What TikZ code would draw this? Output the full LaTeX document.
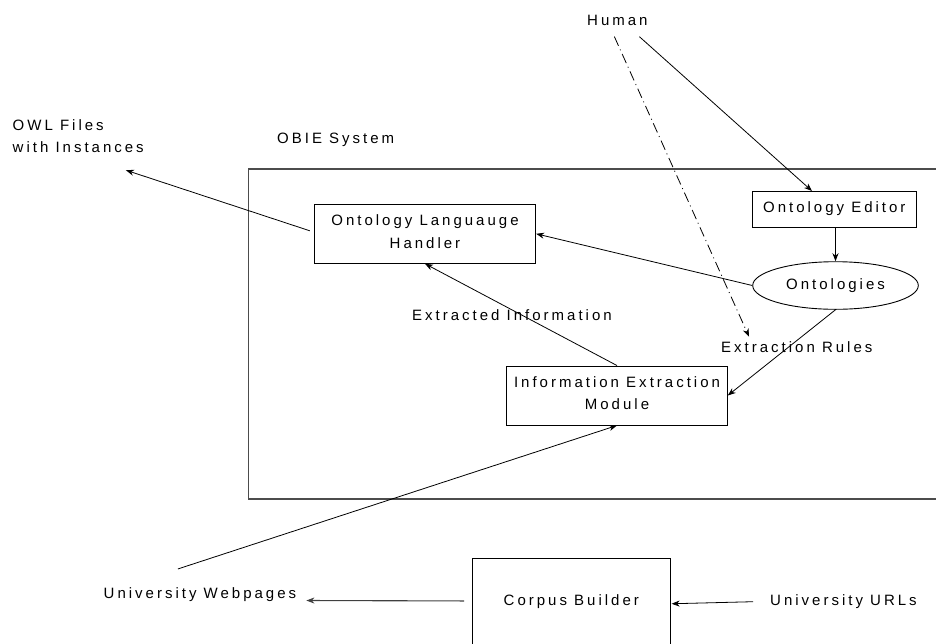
\documentclass[tikz,border=0pt]{standalone}
\usepackage{fontspec}
\setmainfont{Liberation Sans}[LetterSpace=20]
\usetikzlibrary{arrows.meta,calc,shapes.geometric}
% extra depth under the last line of two-line boxes
\newcommand\lowstrut{\rule[-4.3pt]{0pt}{4.3pt}}
\begin{document}
\begin{tikzpicture}[x=1pt,y=-1pt,
  every node/.style={inner sep=0pt,font=\fontsize{15}{22.3}\selectfont},
  box/.style={draw=black,line width=0.9pt,align=center},
  lbl/.style={anchor=base west},
  link/.style={draw=black,line width=0.8pt,-{Stealth[length=8pt,width=6pt,inset=2.5pt]}},
  frame/.style={draw=black!70,line width=1.3pt},
  dashdot/.style={dash pattern=on 10pt off 4pt on 1pt off 4pt}]
\useasboundingbox (0,0) rectangle (936,643);
\clip (0,0) rectangle (936,643);

% system boundary
\draw[frame] (248.7,169) rectangle (945,499);

% labels
\node[lbl] (human) at (587,25.3) {Human};
\node[lbl] (obie) at (277,143.3) {OBIE System};
\node[anchor=north west,align=left] (owl) at (12.5,119.5) {OWL Files\\with Instances};
\node[lbl] (extinfo) at (412,320) {Extracted Information};
\node[lbl] (rules) at (721,352.7) {Extraction Rules};
\node[lbl] (webpages) at (103.5,598) {University Webpages};
\node[lbl] (urls) at (770,605) {University URLs};

% components
\node[box,minimum width=221.4pt,minimum height=59pt] (handler) at (425,233.8)
  {Ontology Languauge\\Handler\lowstrut};
\node[box,anchor=north west,minimum width=163.7pt,text height=20.7pt,text depth=15.3pt] (editor)
  at (752,191) {Ontology Editor};
\node[draw=black,line width=0.9pt,ellipse,minimum width=165.6pt,minimum height=47.6pt] (onto)
  at (835.5,285.5) {Ontologies};
\node[box,minimum width=220.6pt,minimum height=59pt] (iem) at (617,395.5)
  {Information Extraction\\Module\lowstrut};
\node[box,anchor=north west,minimum width=197.7pt,text height=47pt,text depth=60pt] (corpus)
  at (472,558) {Corpus Builder};

% connectors
\draw[link] ($(human.south)+(22,11)$) -- ($(editor.north west)+(60,0)$);
\draw[link,dashdot] ($(human.south)+(-3,11)$) -- ($(rules.north west)+(28,-5)$);
\draw[link] (editor.south -| onto.north) -- (onto.north);
\draw[link] (onto.west) -- (handler.east);
\draw[link] (onto.south) -- (iem.east);
\draw[link] (iem.north) -- (handler.south);
\draw[link] ($(webpages.north)+(-22,-18)$) -- (iem.south);
\draw[link] ($(handler.west)+(-4,-3)$) -- ($(owl.south east)+(-18,17)$);
\draw[link,draw=black!75,line width=1.1pt] ($(corpus.base west)+(-8,-4.5)$) -- ($(webpages.base east)+(10,2.5)$);
\draw[link] ($(urls.base west)+(-17,-3.3)$) -- ($(corpus.base east)+(1,-1.7)$);
\end{tikzpicture}
\end{document}
